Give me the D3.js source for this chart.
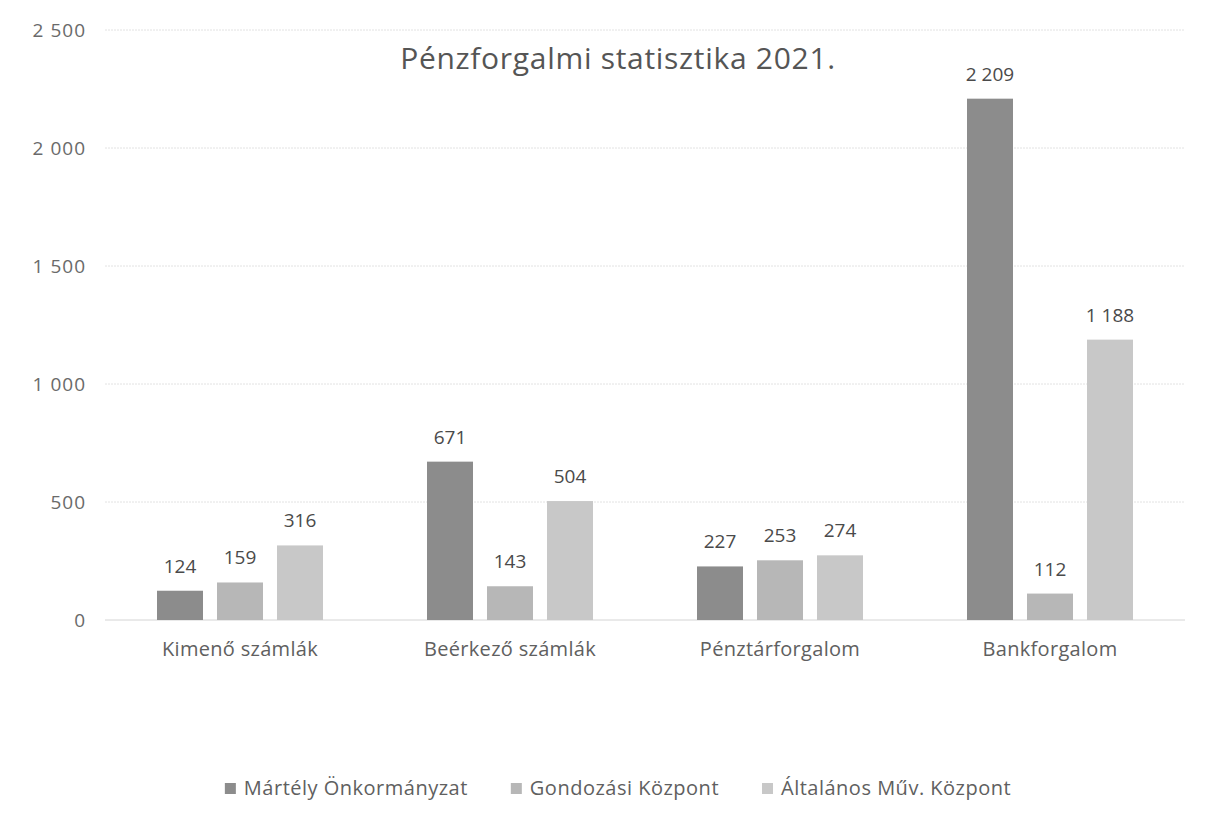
<!DOCTYPE html>
<html><head><meta charset="utf-8">
<script src="https://cdn.jsdelivr.net/npm/d3@7"></script>
<style>
body{margin:0;background:#fff;}
svg{display:block;font-family:"Open Sans",sans-serif;}
</style></head>
<body><svg id="c" width="1209" height="819"></svg>
<script>
const categories = ["Kimenő számlák","Beérkező számlák","Pénztárforgalom","Bankforgalom"];
const seriesNames = ["Mártély Önkormányzat","Gondozási Központ","Általános Műv. Központ"];
const seriesMartely = [124, 671, 227, 2209];
const seriesGondozasi = [159, 143, 253, 112];
const seriesAltalanos = [316, 504, 274, 1188];
const yTicks = [0, 500, 1000, 1500, 2000, 2500];
const colors = ["#8c8c8c","#b7b7b7","#c8c8c8"];
const title = "Pénzforgalmi statisztika 2021.";

const allSeries = [seriesMartely, seriesGondozasi, seriesAltalanos];
const loc = d3.formatLocale({decimal:",", thousands:"\u00a0", grouping:[3], currency:["",""]});
const fmt = loc.format(",d");

const svg = d3.select("#c");
const pLeft = 105, pRight = 1185, pTop = 30, pBottom = 620;
const x = d3.scaleBand().domain(categories).range([pLeft, pRight]);
const y = d3.scaleLinear().domain([0, 2500]).range([pBottom, pTop]);
const barW = 46, gap = 14;
const xs = d3.scaleBand().domain(d3.range(3)).range([0, barW*3+gap*2]).paddingInner(gap/(barW+gap));

// gridlines
svg.append("g").selectAll("line").data(yTicks).join("line")
  .attr("x1", pLeft).attr("x2", pRight)
  .attr("y1", d=>y(d)).attr("y2", d=>y(d))
  .attr("stroke", d=> d===0 ? "#d4d4d4" : "#e2e2e2").attr("stroke-width",1)
  .attr("stroke-dasharray", d=> d===0 ? null : "2,1");

// y axis labels
const yAxis = d3.axisLeft(y).tickValues(yTicks).tickFormat(fmt).tickSize(0).tickPadding(0);
const ya = svg.append("g").attr("transform", `translate(86,0)`).call(yAxis);
ya.select(".domain").remove();
ya.selectAll("text").attr("font-size", 19).attr("letter-spacing", 1)
  .attr("fill", "#6a6a6a").attr("font-family","Open Sans");

// x axis labels
const xAxis = d3.axisBottom(x).tickSize(0).tickPadding(0);
const xa = svg.append("g").attr("transform", `translate(0,${pBottom+22})`).call(xAxis);
xa.select(".domain").remove();
xa.selectAll("text").attr("font-size", 20).attr("letter-spacing", 0.3)
  .attr("fill", "#606060").attr("font-family","Open Sans");

// bars
const groupW = barW*3+gap*2;
const groups = svg.append("g").selectAll("g").data(categories).join("g")
  .attr("transform", c => `translate(${x(c)+x.bandwidth()/2-groupW/2},0)`);
groups.each(function(c, ci){
  const g = d3.select(this);
  allSeries.forEach((s, si) => {
    g.append("rect").attr("x", xs(si)).attr("width", xs.bandwidth())
      .attr("y", y(s[ci])).attr("height", y(0)-y(s[ci])).attr("fill", colors[si]);
    g.append("text").attr("x", xs(si)+xs.bandwidth()/2).attr("y", y(s[ci])-18)
      .attr("text-anchor","middle").attr("font-size",19)
      .attr("fill","#4a4a4a").text(fmt(s[ci]));
  });
});

// title
svg.append("text").attr("x", 618).attr("y", 69).attr("text-anchor","middle")
  .attr("font-size", 30).attr("letter-spacing", 0.7).attr("fill","#555").text(title);

// legend
const lg = svg.append("g");
const items = lg.selectAll("g").data(seriesNames).join("g");
items.append("rect").attr("width",11).attr("height",11).attr("y",-5).attr("fill",(d,i)=>colors[i]);
items.append("text").attr("x",19).attr("y",0).attr("dy","0.35em").attr("font-size",20)
  .attr("letter-spacing",0.5).attr("fill","#606060").text(d=>d);
let widths = [];
items.each(function(){ widths.push(19 + d3.select(this).select("text").node().getComputedTextLength()); });
const spacing = 43;
const total = d3.sum(widths) + spacing*(widths.length-1);
let cx = 618 - total/2;
items.each(function(d,i){ d3.select(this).attr("transform", `translate(${cx},788)`); cx += widths[i]+spacing; });
</script></body></html>
